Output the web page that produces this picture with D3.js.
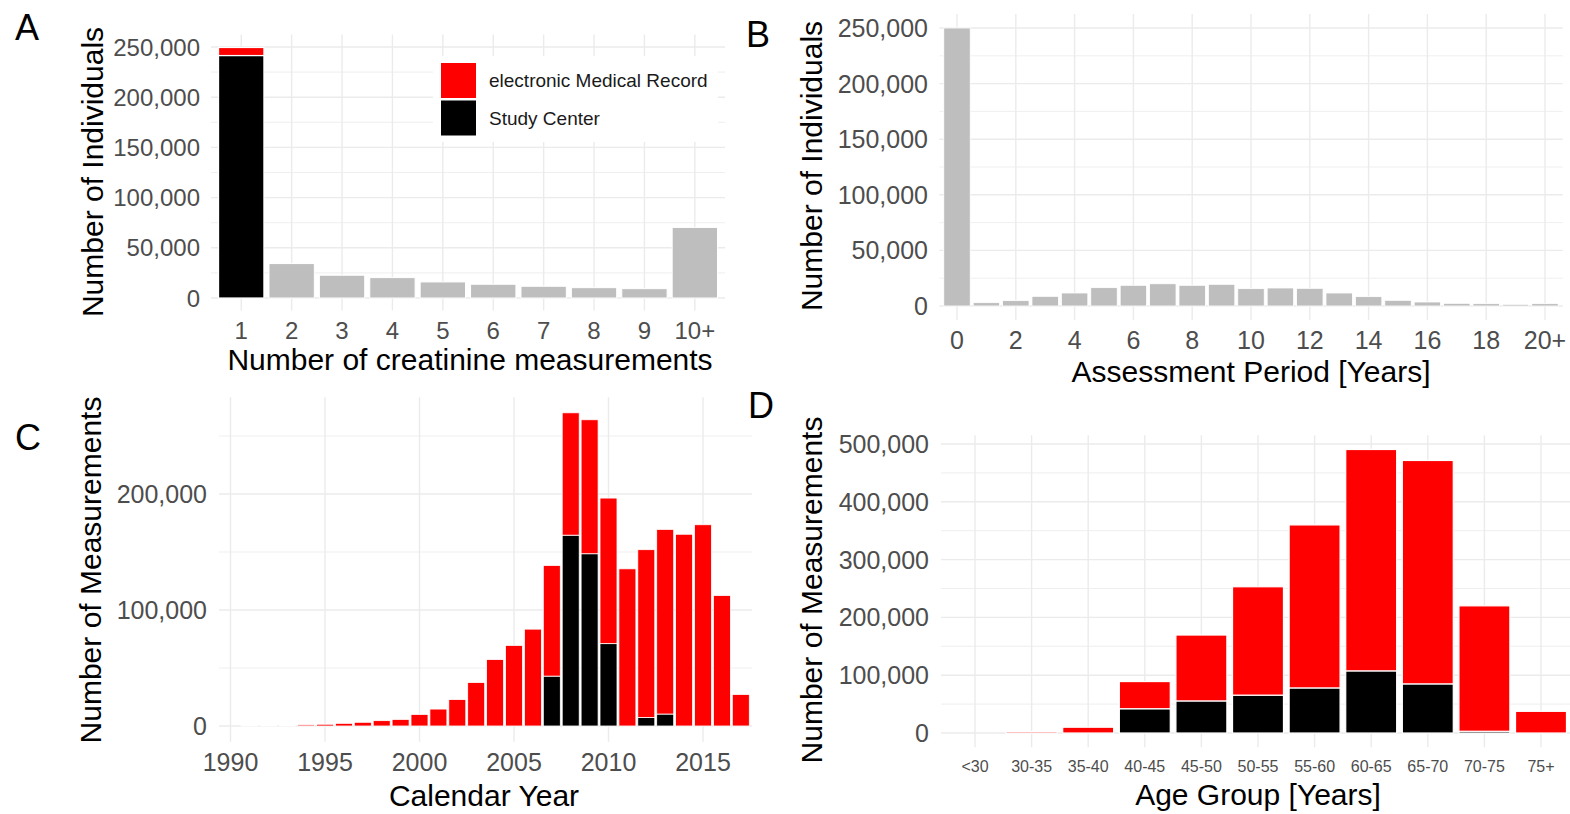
<!DOCTYPE html>
<html>
<head>
<meta charset="utf-8">
<script src="https://cdn.jsdelivr.net/npm/d3@7"></script>
<style>
  html, body { margin: 0; padding: 0; background: #fff; }
  svg { display: block; font-family: "Liberation Sans", Arial, sans-serif; }
</style>
</head>
<body>
<svg id="chart" width="1570" height="814"></svg>
<script>
// ---------------- DATA ----------------
// Panel A: number of creatinine measurements per individual
const aCategories = ["1", "2", "3", "4", "5", "6", "7", "8", "9", "10+"];
const aStudyCenter = [241500, 0, 0, 0, 0, 0, 0, 0, 0, 0];
const aEMR = [8000, 0, 0, 0, 0, 0, 0, 0, 0, 0];
const aOther = [0, 34300, 22700, 20300, 16000, 13700, 11700, 10300, 9300, 70300];
const aYTicks = [0, 50000, 100000, 150000, 200000, 250000];
const legendLabels = ["electronic Medical Record", "Study Center"];

// Panel B: assessment period in years
const bCategories = ["0","1","2","3","4","5","6","7","8","9","10","11","12","13","14","15","16","17","18","19","20+"];
const bValues = [250000, 3000, 4800, 8700, 11700, 16500, 18600, 20000, 18600, 19500, 15600,
                 16200, 15900, 11700, 8400, 5100, 3600, 2400, 2100, 1500, 2100];
const bTickLabels = ["0","2","4","6","8","10","12","14","16","18","20+"];
const bYTicks = [0, 50000, 100000, 150000, 200000, 250000];

// Panel C: measurements per calendar year
const cYears = [1991,1992,1993,1994,1995,1996,1997,1998,1999,2000,2001,2002,2003,2004,
                2005,2006,2007,2008,2009,2010,2011,2012,2013,2014,2015,2016,2017];
const cStudyCenter = [0,0,0,0,0,0,0,0,0,0,0,0,0,0,
                      0,0,43000,164500,148500,71000,0,7300,10300,0,0,0,0];
const cEMR = [400,500,600,1000,1500,2300,3200,4600,5700,10000,14600,22800,37500,57300,
              69500,83500,95400,105500,115500,125500,135500,144700,159200,165300,173500,112500,27200];
const cXTicks = [1990, 1995, 2000, 2005, 2010, 2015];
const cYTicks = [0, 100000, 200000];

// Panel D: measurements per age group
const dCategories = ["<30","30-35","35-40","40-45","45-50","50-55","55-60","60-65","65-70","70-75","75+"];
const dStudyCenter = [0, 0, 0, 42000, 55500, 65500, 78000, 107500, 85000, 3000, 0];
const dEMR = [0, 2500, 10000, 47000, 114000, 187500, 282000, 383000, 386500, 217000, 37500];
const dYTicks = [0, 100000, 200000, 300000, 400000, 500000];

// ---------------- STYLE ----------------
const RED = "#FF0000", BLACK = "#000000", GREY = "#BEBEBE";
const GRID = "#EBEBEB";
const TICK_COL = "#4D4D4D";
const fmt = d3.format(",");

const svg = d3.select("#chart");

function grid(g, panel, xs, ys, ysMinor) {
  const gg = g.append("g");
  if (ysMinor) gg.selectAll(".hmin").data(ysMinor).join("line")
    .attr("x1", panel.l).attr("x2", panel.r).attr("y1", d => d).attr("y2", d => d)
    .attr("stroke", GRID).attr("stroke-width", 0.8);
  gg.selectAll(".h").data(ys).join("line")
    .attr("x1", panel.l).attr("x2", panel.r).attr("y1", d => d).attr("y2", d => d)
    .attr("stroke", GRID).attr("stroke-width", 1.4);
  gg.selectAll(".v").data(xs).join("line")
    .attr("y1", panel.t).attr("y2", panel.b).attr("x1", d => d).attr("x2", d => d)
    .attr("stroke", GRID).attr("stroke-width", 1.4);
}

function yTickLabels(g, ticks, y, xRight, size) {
  g.append("g").selectAll("text").data(ticks).join("text")
    .attr("x", xRight).attr("y", d => y(d)).attr("dy", "0.36em")
    .attr("text-anchor", "end").attr("fill", TICK_COL).attr("font-size", size)
    .text(d => fmt(d));
}

function xTickLabels(g, items, baseline, size) {
  g.append("g").selectAll("text").data(items).join("text")
    .attr("x", d => d.x).attr("y", baseline)
    .attr("text-anchor", "middle").attr("fill", TICK_COL).attr("font-size", size)
    .text(d => d.label);
}

function titleX(g, text, x, baseline) {
  g.append("text").attr("x", x).attr("y", baseline).attr("text-anchor", "middle")
    .attr("font-size", 30).attr("fill", "#000").text(text);
}
function titleY(g, text, xBaseline, yCenter) {
  g.append("text").attr("transform", `translate(${xBaseline},${yCenter}) rotate(-90)`)
    .attr("text-anchor", "middle").attr("font-size", 30).attr("fill", "#000").text(text);
}
function letter(text, x, baseline) {
  svg.append("text").attr("x", x).attr("y", baseline).attr("font-size", 36)
    .attr("fill", "#000").text(text);
}
function minorTicks(major) {
  const out = [];
  for (let i = 0; i < major.length - 1; i++) out.push((major[i] + major[i + 1]) / 2);
  return out;
}

// ================= PANEL A =================
(function () {
  const g = svg.append("g");
  const y = d3.scaleLinear().domain([0, 250000]).range([298, 47]);
  const step = 50.4;
  const x = d3.scaleBand().domain(aCategories).range([211, 211 + 10.2 * step])
    .paddingInner(0.1).paddingOuter(0.15);
  const panel = { l: 211, r: 211 + 10.2 * step, t: y(262500), b: y(-12500) };
  grid(g, panel, aCategories.map(c => x(c) + x.bandwidth() / 2), aYTicks.map(y), minorTicks(aYTicks).map(y));

  const stacked = aCategories.map((c, i) => ({ c, sc: aStudyCenter[i], emr: aEMR[i], other: aOther[i] }));
  const bars = g.append("g");
  bars.selectAll(".o").data(stacked.filter(d => d.other > 0)).join("rect")
    .attr("x", d => x(d.c)).attr("width", x.bandwidth())
    .attr("y", d => y(d.other)).attr("height", d => y(0) - y(d.other))
    .attr("fill", GREY).attr("stroke", "#fff").attr("stroke-width", 1);
  bars.selectAll(".s").data(stacked.filter(d => d.sc > 0)).join("rect")
    .attr("x", d => x(d.c)).attr("width", x.bandwidth())
    .attr("y", d => y(d.sc)).attr("height", d => y(0) - y(d.sc))
    .attr("fill", BLACK).attr("stroke", "#fff").attr("stroke-width", 1.2);
  bars.selectAll(".e").data(stacked.filter(d => d.emr > 0)).join("rect")
    .attr("x", d => x(d.c)).attr("width", x.bandwidth())
    .attr("y", d => y(d.sc + d.emr)).attr("height", d => y(d.sc) - y(d.sc + d.emr))
    .attr("fill", RED).attr("stroke", "#fff").attr("stroke-width", 1.2);

  yTickLabels(g, aYTicks, y, 200, 24);
  xTickLabels(g, aCategories.map(c => ({ x: x(c) + x.bandwidth() / 2, label: c })), 339, 24);
  titleX(g, "Number of creatinine measurements", 470, 370);
  titleY(g, "Number of Individuals", 103, 172);

  // legend
  const lg = g.append("g");
  lg.append("rect").attr("x", 433).attr("y", 56).attr("width", 285).attr("height", 86).attr("fill", "#fff");
  const lcol = [RED, BLACK];
  legendLabels.forEach((lab, i) => {
    lg.append("rect").attr("x", 441).attr("y", 63 + i * 37.5).attr("width", 35).attr("height", 35)
      .attr("fill", lcol[i]);
    lg.append("text").attr("x", 489).attr("y", 80 + i * 38).attr("dy", "0.36em")
      .attr("font-size", 19).attr("fill", "#1a1a1a").text(lab);
  });
})();

// ================= PANEL B =================
(function () {
  const g = svg.append("g");
  const y = d3.scaleLinear().domain([0, 250000]).range([306, 28]);
  const step = 29.4;
  const left = 957 - 0.6 * step;
  const x = d3.scaleBand().domain(bCategories).range([left, left + 21.2 * step])
    .paddingInner(0.1).paddingOuter(0.15);
  const panel = { l: left, r: left + 21.2 * step, t: y(262500), b: y(-12500) };
  const labelled = bCategories.filter((c, i) => i % 2 === 0);
  const cx = c => x(c) + x.bandwidth() / 2;
  grid(g, panel, labelled.map(cx), bYTicks.map(y), minorTicks(bYTicks).map(y));

  g.append("g").selectAll("rect").data(bCategories.map((c, i) => ({ c, v: bValues[i] }))).join("rect")
    .attr("x", d => x(d.c)).attr("width", x.bandwidth())
    .attr("y", d => y(d.v)).attr("height", d => y(0) - y(d.v))
    .attr("fill", GREY).attr("stroke", "#fff").attr("stroke-width", 0.8);

  yTickLabels(g, bYTicks, y, 928, 25);
  xTickLabels(g, labelled.map((c, i) => ({ x: cx(c), label: bTickLabels[i] })), 349, 25);
  titleX(g, "Assessment Period [Years]", 1251, 382);
  titleY(g, "Number of Individuals", 822, 166);
})();

// ================= PANEL C =================
(function () {
  const g = svg.append("g");
  const y = d3.scaleLinear().domain([0, 200000]).range([726, 494]);
  const x = d3.scaleLinear().domain([1990, 2015]).range([230.5, 703]);
  const panel = { l: 219, r: 752, t: y(283500), b: y(-13500) };
  const yMinor = [50000, 150000, 250000];
  grid(g, panel, cXTicks.map(x), cYTicks.map(y), yMinor.map(y));

  const w = x(1990.9) - x(1990);
  const data = cYears.map((yr, i) => ({ yr, sc: cStudyCenter[i], emr: cEMR[i] }));
  const bars = g.append("g");
  bars.selectAll(".s").data(data.filter(d => d.sc > 0)).join("rect")
    .attr("x", d => x(d.yr) - w / 2).attr("width", w)
    .attr("y", d => y(d.sc)).attr("height", d => y(0) - y(d.sc))
    .attr("fill", BLACK).attr("stroke", "#fff").attr("stroke-width", 0.8);
  bars.selectAll(".e").data(data).join("rect")
    .attr("x", d => x(d.yr) - w / 2).attr("width", w)
    .attr("y", d => y(d.sc + d.emr)).attr("height", d => y(d.sc) - y(d.sc + d.emr))
    .attr("fill", RED).attr("stroke", "#fff").attr("stroke-width", 0.8);

  yTickLabels(g, cYTicks, y, 207, 25);
  xTickLabels(g, cXTicks.map(t => ({ x: x(t), label: String(t) })), 771, 25);
  titleX(g, "Calendar Year", 484, 806);
  titleY(g, "Number of Measurements", 101, 570);
})();

// ================= PANEL D =================
(function () {
  const g = svg.append("g");
  const y = d3.scaleLinear().domain([0, 500000]).range([733, 444]);
  const step = 56.6;
  const left = 975 - 0.6 * step;
  const x = d3.scaleBand().domain(dCategories).range([left, left + 11.2 * step])
    .paddingInner(0.1).paddingOuter(0.15);
  const panel = { l: left, r: left + 11.2 * step, t: y(515000), b: y(-24500) };
  const cx = c => x(c) + x.bandwidth() / 2;
  grid(g, panel, dCategories.map(cx), dYTicks.map(y), minorTicks(dYTicks).map(y));

  const data = dCategories.map((c, i) => ({ c, sc: dStudyCenter[i], emr: dEMR[i] }));
  const bars = g.append("g");
  bars.selectAll(".s").data(data.filter(d => d.sc > 0)).join("rect")
    .attr("x", d => x(d.c)).attr("width", x.bandwidth())
    .attr("y", d => y(d.sc)).attr("height", d => y(0) - y(d.sc))
    .attr("fill", BLACK).attr("stroke", "#fff").attr("stroke-width", 1.2);
  bars.selectAll(".e").data(data.filter(d => d.emr > 0)).join("rect")
    .attr("x", d => x(d.c)).attr("width", x.bandwidth())
    .attr("y", d => y(d.sc + d.emr)).attr("height", d => y(d.sc) - y(d.sc + d.emr))
    .attr("fill", RED).attr("stroke", "#fff").attr("stroke-width", 1.2);

  yTickLabels(g, dYTicks, y, 929, 25);
  xTickLabels(g, dCategories.map(c => ({ x: cx(c), label: c })), 772, 16);
  titleX(g, "Age Group [Years]", 1258, 805);
  titleY(g, "Number of Measurements", 822, 590);
})();

// panel letters
letter("A", 15, 40);
letter("B", 746, 47);
letter("C", 15, 450);
letter("D", 748, 418);
</script>
</body>
</html>
